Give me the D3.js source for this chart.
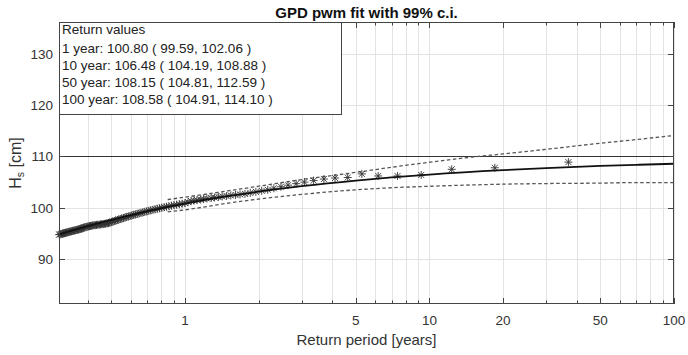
<!DOCTYPE html>
<html>
<head>
	<script src="https://cdn.jsdelivr.net/npm/d3@7"></script>
	<style>
		html, body {
			padding: 0;
			margin: 0;
			background: #fff;
		}
		text { font-family: "Liberation Sans", Arial, sans-serif; }
	</style>
</head>
<body>
	<script>
		var width = 688, height = 355;
		var margin = {top: 22, right: 14, bottom: 51, left: 59};

		// empirical return periods [years] and observed heights [cm]
		var obsT = [37.00, 18.50, 12.33, 9.25, 7.40, 6.17, 5.29, 4.63, 4.11, 3.70,
			3.36, 3.08, 2.85, 2.64, 2.47, 2.31, 2.18, 2.06, 1.95, 1.85,
			1.76, 1.68, 1.61, 1.54, 1.48, 1.42, 1.37, 1.32, 1.28, 1.23,
			1.19, 1.16, 1.12, 1.09, 1.06, 1.03, 1.00, 0.974, 0.949, 0.925,
			0.902, 0.881, 0.860, 0.841, 0.822, 0.804, 0.787, 0.771, 0.755, 0.740,
			0.725, 0.712, 0.698, 0.685, 0.673, 0.661, 0.649, 0.638, 0.627, 0.617,
			0.607, 0.597, 0.587, 0.578, 0.569, 0.561, 0.552, 0.544, 0.536, 0.529,
			0.521, 0.514, 0.507, 0.500, 0.493, 0.487, 0.481, 0.474, 0.468, 0.463,
			0.457, 0.451, 0.446, 0.440, 0.435, 0.430, 0.425, 0.420, 0.416, 0.411,
			0.407, 0.402, 0.398, 0.394, 0.389, 0.385, 0.381, 0.378, 0.374, 0.370,
			0.366, 0.363, 0.359, 0.356, 0.352, 0.349, 0.346, 0.343, 0.339, 0.336,
			0.333, 0.330, 0.327, 0.325, 0.322, 0.319, 0.316, 0.314, 0.311, 0.308, 0.306];
		var obsH = [108.9, 107.8, 107.5, 106.4, 106.2, 106.2, 106.6, 105.9, 105.8, 105.6,
			105.3, 105.0, 104.7, 104.4, 104.1, 103.8, 103.5, 103.3, 103.1, 102.9,
			102.7, 102.6, 102.5, 102.4, 102.3, 102.2, 102.1, 102.0, 101.9, 101.8,
			101.7, 101.6, 101.5, 101.4, 101.3, 101.1, 100.9, 100.8, 100.7, 100.6,
			100.5, 100.4, 100.3, 100.2, 100.1, 100.0, 99.9, 99.8, 99.7, 99.6,
			99.5, 99.4, 99.3, 99.2, 99.1, 99.0, 98.9, 98.8, 98.7, 98.6,
			98.5, 98.4, 98.3, 98.2, 98.1, 98.0, 97.9, 97.8, 97.7, 97.6,
			97.5, 97.4, 97.3, 97.2, 97.1, 97.0, 96.95, 96.9, 96.85, 96.8,
			96.8, 96.75, 96.7, 96.7, 96.65, 96.6, 96.6, 96.55, 96.5, 96.45,
			96.4, 96.35, 96.3, 96.25, 96.2, 96.1, 96.0, 95.95, 95.9, 95.8,
			95.75, 95.7, 95.65, 95.6, 95.55, 95.5, 95.45, 95.4, 95.35, 95.3,
			95.25, 95.2, 95.15, 95.1, 95.05, 95.0, 94.95, 94.9, 94.85, 94.8, 94.75];

		// fitted GPD return level curve
		var fitT = [0.3055, 0.35, 0.4, 0.5, 0.6, 0.7, 0.8, 1, 1.5, 2, 3, 5, 7, 10, 20, 30, 50, 70, 100];
		var fitH = [94.76, 95.63, 96.42, 97.65, 98.58, 99.30, 99.89, 100.80, 102.25, 103.13, 104.20, 105.31, 105.92, 106.48, 107.34, 107.74, 108.15, 108.37, 108.58];

		// 99% confidence interval
		var ciT = [0.85, 1, 1.5, 2, 3, 5, 7, 10, 15, 20, 30, 50, 70, 100];
		var ciUpper = [101.6, 102.06, 103.3, 104.2, 105.5, 106.9, 107.9, 108.88, 109.9, 110.5, 111.4, 112.59, 113.3, 114.10];
		var ciLower = [99.2, 99.59, 100.9, 101.7, 102.6, 103.5, 103.9, 104.19, 104.45, 104.6, 104.72, 104.81, 104.91, 104.91];

		// reference level
		var refLevel = 110;

		// return values shown in the text box
		var retYears = [1, 10, 50, 100];
		var retLevel = [100.80, 106.48, 108.15, 108.58];
		var retLow = [99.59, 104.19, 104.81, 104.91];
		var retHigh = [102.06, 108.88, 112.59, 114.10];

		var xTicks = [1, 5, 10, 20, 50, 100];
		var xMinor = [0.4, 0.5, 0.6, 0.7, 0.8, 0.9, 2, 3, 4, 6, 7, 8, 9, 30, 40, 60, 70, 80, 90];
		var yTicks = [90, 100, 110, 120, 130];

		var svg = d3.select('body').append('svg')
			.attr('width', width)
			.attr('height', height);

		var x = d3.scaleLog()
			.domain([0.3055, 100])
			.range([margin.left, width - margin.right]);
		var y = d3.scaleLinear()
			.domain([81.22, 136.24])
			.range([height - margin.bottom, margin.top]);

		var x0 = margin.left, x1 = width - margin.right;
		var y0 = height - margin.bottom, y1 = margin.top;

		// grid
		var grid = svg.append('g').attr('stroke', '#e3e3e3').attr('stroke-width', 1);
		grid.selectAll('.vg').data(xTicks.concat(xMinor)).enter().append('line')
			.attr('x1', d => Math.round(x(d)) + 0.5).attr('x2', d => Math.round(x(d)) + 0.5)
			.attr('y1', y0).attr('y2', y1);
		grid.selectAll('.hg').data(yTicks).enter().append('line')
			.attr('x1', x0).attr('x2', x1)
			.attr('y1', d => Math.round(y(d)) + 0.5).attr('y2', d => Math.round(y(d)) + 0.5);

		// reference line
		svg.append('line')
			.attr('x1', x0).attr('x2', x1)
			.attr('y1', y(refLevel)).attr('y2', y(refLevel))
			.attr('stroke', '#333').attr('stroke-width', 1.2);

		// CI dashed lines
		var ciLine = d3.line().curve(d3.curveMonotoneX)
			.x(d => x(d[0])).y(d => y(d[1]));
		[ciUpper, ciLower].forEach(function(vals) {
			svg.append('path')
				.datum(ciT.map((t, i) => [t, vals[i]]))
				.attr('d', ciLine)
				.attr('fill', 'none')
				.attr('stroke', '#555')
				.attr('stroke-width', 1.3)
				.attr('stroke-dasharray', '3.5,2.5');
		});

		// observed points (asterisks)
		var star = 'M-4,0H4M0,-4V4M-3,-3L3,3M-3,3L3,-3';
		svg.append('g').selectAll('path').data(obsT.map((t, i) => [t, obsH[i]])).enter()
			.append('path')
			.attr('d', star)
			.attr('transform', d => 'translate(' + x(d[0]) + ',' + y(d[1]) + ')')
			.attr('fill', 'none')
			.attr('stroke', '#333')
			.attr('stroke-width', 0.9);

		// fit line
		svg.append('path')
			.datum(fitT.map((t, i) => [t, fitH[i]]))
			.attr('d', ciLine)
			.attr('fill', 'none')
			.attr('stroke', '#111')
			.attr('stroke-width', 1.8);

		// axes box and ticks
		var axColor = '#444';
		svg.append('rect')
			.attr('x', x0 + 0.5).attr('y', y1 + 0.5)
			.attr('width', x1 - x0 - 1).attr('height', y0 - y1 - 1)
			.attr('fill', 'none').attr('stroke', axColor).attr('stroke-width', 1);

		var ticks = svg.append('g').attr('stroke', axColor).attr('stroke-width', 1);
		var xt = xTicks.map(d => [d, 6]).concat(xMinor.map(d => [d, 3.5]));
		ticks.selectAll('.xb').data(xt).enter().append('line')
			.attr('x1', d => Math.round(x(d[0])) + 0.5).attr('x2', d => Math.round(x(d[0])) + 0.5)
			.attr('y1', y0).attr('y2', d => y0 - d[1]);
		ticks.selectAll('.xtp').data(xt).enter().append('line')
			.attr('x1', d => Math.round(x(d[0])) + 0.5).attr('x2', d => Math.round(x(d[0])) + 0.5)
			.attr('y1', y1).attr('y2', d => y1 + d[1]);
		ticks.selectAll('.yl').data(yTicks).enter().append('line')
			.attr('x1', x0).attr('x2', x0 + 6)
			.attr('y1', d => Math.round(y(d)) + 0.5).attr('y2', d => Math.round(y(d)) + 0.5);
		ticks.selectAll('.yr').data(yTicks).enter().append('line')
			.attr('x1', x1).attr('x2', x1 - 6)
			.attr('y1', d => Math.round(y(d)) + 0.5).attr('y2', d => Math.round(y(d)) + 0.5);

		// tick labels
		svg.append('g').selectAll('text').data(xTicks).enter().append('text')
			.attr('x', d => x(d)).attr('y', y0 + 21)
			.attr('text-anchor', 'middle')
			.attr('font-size', '13.5px').attr('fill', '#333')
			.text(d => d);
		svg.append('g').selectAll('text').data(yTicks).enter().append('text')
			.attr('x', x0 - 6).attr('y', d => y(d) + 5)
			.attr('text-anchor', 'end')
			.attr('font-size', '13.5px').attr('fill', '#333')
			.text(d => d);

		// axis labels
		svg.append('text')
			.attr('x', (x0 + x1) / 2).attr('y', y0 + 41)
			.attr('text-anchor', 'middle')
			.attr('font-size', '15px').attr('fill', '#333')
			.text('Return period [years]');
		var yl = svg.append('text')
			.attr('transform', 'translate(21,' + ((y0 + y1) / 2) + ') rotate(-90)')
			.attr('text-anchor', 'middle')
			.attr('font-size', '16px').attr('fill', '#333');
		yl.append('tspan').text('H');
		yl.append('tspan').attr('font-size', '10.5px').attr('dy', 3).text('s');
		yl.append('tspan').attr('dy', -3).text(' [cm]');

		// title
		svg.append('text')
			.attr('x', (x0 + x1) / 2).attr('y', 18)
			.attr('text-anchor', 'middle')
			.attr('font-size', '15px').attr('font-weight', 'bold').attr('fill', '#111')
			.text('GPD pwm fit with 99% c.i.');

		// return values box
		svg.append('rect')
			.attr('x', x0 + 0.5).attr('y', y1 + 0.5)
			.attr('width', 282).attr('height', 92)
			.attr('fill', '#fff').attr('stroke', axColor).attr('stroke-width', 1);
		var lines = ['Return values'].concat(retYears.map(function(t, i) {
			return t + ' year: ' + retLevel[i].toFixed(2) + ' ( ' + retLow[i].toFixed(2) + ', ' + retHigh[i].toFixed(2) + ' )';
		}));
		svg.append('g').selectAll('text').data(lines).enter().append('text')
			.attr('x', x0 + 3)
			.attr('y', (d, i) => i === 0 ? 34 : 36 + 17 * i)
			.attr('font-size', '13.5px').attr('fill', '#222')
			.text(d => d);
	</script>
</body>
</html>
